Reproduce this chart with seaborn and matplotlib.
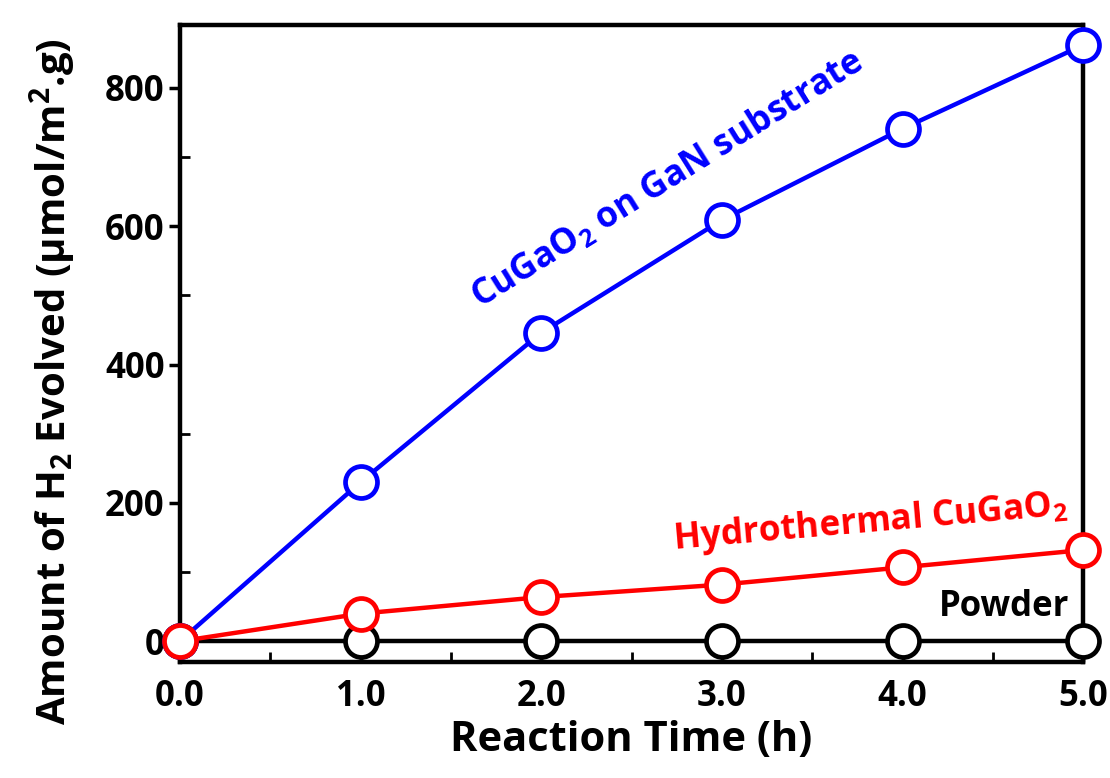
import pandas as pd
import seaborn as sns
import matplotlib.pyplot as plt
from matplotlib.ticker import MultipleLocator

# data
hours = [0.0, 1.0, 2.0, 3.0, 4.0, 5.0]
gan_substrate = [0, 230, 446, 609, 741, 862]
hydrothermal = [0, 40, 64, 82, 107, 132]
powder = [0, 0, 0, 0, 0, 0]

series_names = ['CuGaO$_2$ on GaN substrate', 'Hydrothermal CuGaO$_2$', 'Powder']
series_colors = ['#0000ff', '#ff0000', '#000000']

df = pd.concat([
    pd.DataFrame({'time': hours, 'h2': vals, 'sample': name})
    for name, vals in zip(series_names, [gan_substrate, hydrothermal, powder])
])

sns.set_theme(style='ticks')
plt.rcParams['font.family'] = ['Open Sans', 'DejaVu Sans']
plt.rcParams['font.weight'] = 'bold'
plt.rcParams['mathtext.fontset'] = 'custom'
plt.rcParams['mathtext.rm'] = 'Open Sans:bold'
plt.rcParams['mathtext.bf'] = 'Open Sans:bold'
plt.rcParams['mathtext.it'] = 'Open Sans:bold'
plt.rcParams['mathtext.default'] = 'rm'
for k in ['text.color', 'axes.labelcolor', 'xtick.color', 'ytick.color', 'axes.edgecolor']:
    plt.rcParams[k] = 'black'

fig = plt.figure(figsize=(11.1, 7.78), dpi=100)
ax = fig.add_axes([0.162, 0.149, 0.814, 0.819])

# black first, then blue, red on top (red circle shows at origin)
for idx in [2, 0, 1]:
    name, col = series_names[idx], series_colors[idx]
    sns.lineplot(data=df[df['sample'] == name], x='time', y='h2', ax=ax,
                 color=col, linewidth=3.2, marker='o', markersize=23,
                 markerfacecolor='white', markeredgecolor=col,
                 markeredgewidth=3.4, clip_on=False, zorder=3)

ax.set_xlim(0, 5.0)
ax.set_ylim(-30, 891)
ax.xaxis.set_minor_locator(MultipleLocator(0.5))
ax.yaxis.set_major_locator(MultipleLocator(200))
ax.yaxis.set_minor_locator(MultipleLocator(100))
ax.set_xticks(hours)
ax.set_xticklabels([f'{h:.1f}' for h in hours])

ax.tick_params(axis='y', which='major', direction='out', length=8, width=2.5,
               labelsize=25, pad=3)
ax.tick_params(axis='x', which='major', direction='in', length=8, width=2.5,
               labelsize=25, pad=12)
ax.tick_params(which='minor', direction='in', length=7, width=2)
for lab in ax.get_xticklabels() + ax.get_yticklabels():
    lab.set_fontweight('bold')
for sp in ax.spines.values():
    sp.set_linewidth(3.2)

ax.set_xlabel('Reaction Time (h)', fontsize=30, fontweight='bold', labelpad=4)
ax.set_ylabel('Amount of H$_2$ Evolved ($\\mu$mol/m$^2$.g)', fontsize=29,
              fontweight='bold')
ax.yaxis.set_label_coords(-0.113, 0.44)

ax.text(2.70, 667, 'CuGaO$_2$ on GaN substrate', color='#0000ff', fontsize=25.5,
        fontweight='bold', rotation=32, ha='center', va='center')
ax.text(3.82, 172, 'Hydrothermal CuGaO$_2$', color='#ff0000', fontsize=25.5,
        fontweight='bold', rotation=5, ha='center', va='center')
ax.text(4.92, 50, 'Powder', color='black', fontsize=25,
        fontweight='bold', ha='right', va='center')

plt.savefig('out.png', dpi=100)
